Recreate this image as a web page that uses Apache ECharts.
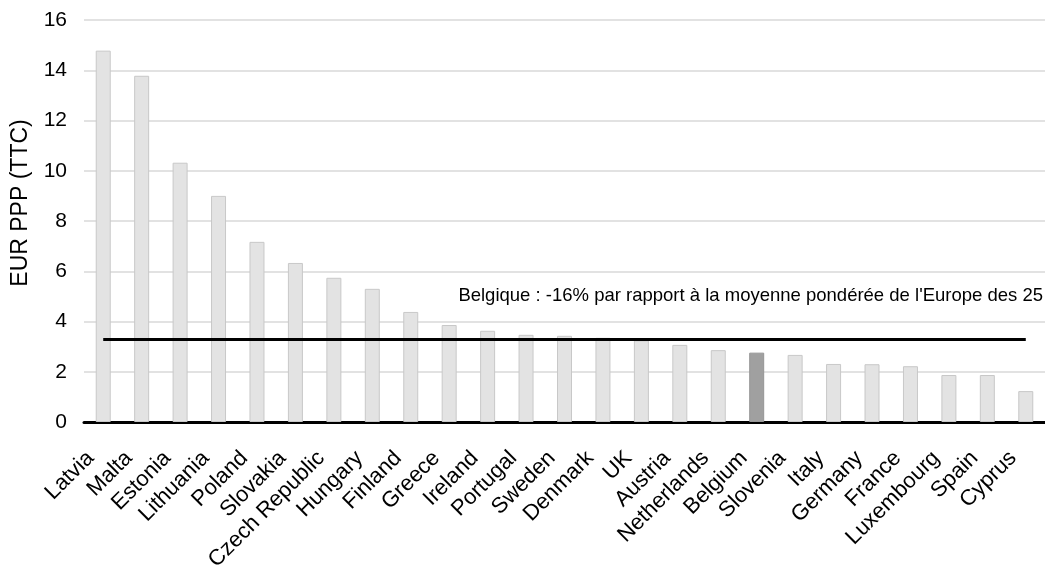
<!DOCTYPE html>
<html>
<head>
<meta charset="utf-8">
<script src="https://cdn.jsdelivr.net/npm/echarts@6/dist/echarts.min.js"></script>
<style>
html,body{margin:0;padding:0;background:#fff;}
#chart{width:1045px;height:572px;}
</style>
</head>
<body>
<div id="chart"></div>
<script>
const categories = ['Latvia','Malta','Estonia','Lithuania','Poland','Slovakia','Czech Republic','Hungary','Finland','Greece','Ireland','Portugal','Sweden','Denmark','UK','Austria','Netherlands','Belgium','Slovenia','Italy','Germany','France','Luxembourg','Spain','Cyprus'];
const values = [14.78,13.78,10.32,9.0,7.17,6.33,5.74,5.3,4.38,3.86,3.63,3.47,3.43,3.35,3.25,3.07,2.86,2.76,2.67,2.31,2.3,2.22,1.87,1.87,1.23];
const highlight = 'Belgium';
const averageLine = 3.29;
const yTicks = {min:0, max:16, interval:2};
const yAxisTitle = 'EUR PPP (TTC)';
const annotation = "Belgique : -16% par rapport à la moyenne pondérée de l'Europe des 25";

const FONT = '"Liberation Sans", Arial, sans-serif';
const chart = echarts.init(document.getElementById('chart'));
chart.setOption({
  animation:false,
  backgroundColor:'#fff',
  grid:{left:84,right:0,top:20,bottom:150,containLabel:false,outerBoundsMode:'none'},
  xAxis:{
    type:'category',
    data:categories,
    axisLine:{lineStyle:{color:'#000',width:3}},
    axisTick:{show:false},
    axisLabel:{interval:0,rotate:45,fontFamily:FONT,fontSize:22,color:'#000',margin:20,padding:[0,18,0,0]}
  },
  yAxis:{
    type:'value',
    min:yTicks.min,max:yTicks.max,interval:yTicks.interval,
    axisLine:{show:false},
    axisTick:{show:false},
    axisLabel:{fontFamily:FONT,fontSize:21,color:'#000',margin:17},
    splitLine:{lineStyle:{color:'#d9d9d9',width:1.5}}
  },
  series:[{
    type:'bar',
    barWidth:15,
    data:values.map((v,i)=>({
      value:v,
      itemStyle: categories[i]===highlight ? {color:'#a0a0a0',borderColor:'#969696',borderWidth:1} : {color:'#e3e3e3',borderColor:'#c8c8c8',borderWidth:1}
    })),
    markLine:{
      silent:true,
      symbol:'none',
      label:{show:false},
      lineStyle:{color:'#000',width:3,type:'solid'},
      data:[[{coord:[categories[0],averageLine]},{coord:[categories[categories.length-1],averageLine]}]]
    }
  }],
  graphic:[
    {type:'text',x:9,y:203,rotation:Math.PI/2,style:{text:yAxisTitle,font:'23px '+FONT,fill:'#000',align:'center',verticalAlign:'top'}},
    {type:'text',right:2,top:286,style:{text:annotation,font:'18.5px '+FONT,fill:'#000'}}
  ]
});
</script>
</body>
</html>
